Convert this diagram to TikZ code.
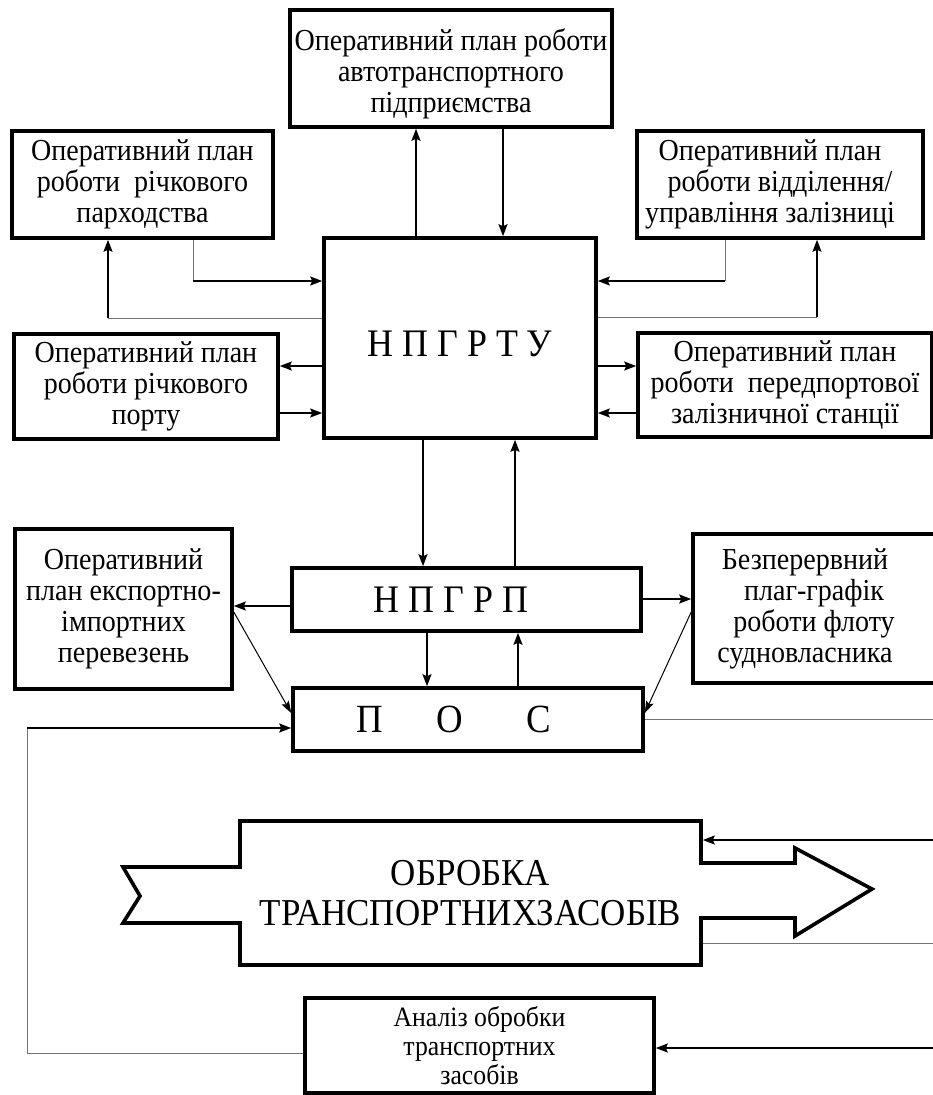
\documentclass[tikz,border=0pt]{standalone}
\usepackage{fontspec}
\setmainfont{Liberation Serif}[FakeStretch=0.92]
\usetikzlibrary{arrows.meta,calc}
\begin{document}
\begin{tikzpicture}[x=1pt,y=-1pt,
  boxbase/.style={draw, line width=3.6pt, inner sep=0pt},
  box/.style={boxbase, align=center, font=\fontsize{30.5}{31}\selectfont},
  arr/.style={line width=1.7pt, -{Stealth[length=12pt,width=9pt,inset=2pt]}},
  darr/.style={line width=1pt, -{Stealth[length=12pt,width=8pt,inset=2pt]}},
  gl/.style={line width=1pt, draw=black!55},
]
\useasboundingbox (0,0) rectangle (933,1095);
\clip (0,0) rectangle (933,1095);

% boxes
\node[box, minimum width=322pt, minimum height=117pt] (auto) at (451,68.5)
  {\raisebox{-5pt}[\height][\depth]{\parbox{322pt}{\centering Оперативний план роботи\\автотранспортного\\підприємства}}};
\node[box, minimum width=261pt, minimum height=107pt] (river) at (142.5,184.5)
  {Оперативний план\\роботи~ річкового\\парходства};
\node[box, minimum width=286pt, minimum height=107pt] (rail) at (780,184.5)
  {Оперативний план\hspace*{20pt}\\роботи відділення/\hspace*{20pt}\\управління залізниці\hspace*{20pt}};
\node[boxbase, minimum width=272pt, minimum height=200pt, font=\fontsize{39}{40}\selectfont] (main) at (460,338)
  {\raisebox{-6pt}[\height][\depth]{Н П Г Р Т У}};
\node[box, minimum width=264pt, minimum height=105pt] (port) at (146,386.5)
  {Оперативний план\\роботи річкового\\порту};
\node[box, minimum width=294pt, minimum height=104pt] (station) at (785,385)
  {Оперативний план\\роботи~ передпортової\\залізничної станції};
\node[box, minimum width=217pt, minimum height=160pt] (export) at (123.5,609)
  {Оперативний\\план експортно-\\імпортних\\перевезень};
\node[boxbase, minimum width=349pt, minimum height=63pt, font=\fontsize{39}{40}\selectfont] (npgrp) at (466.5,599.5)
  {Н П Г Р П\hspace*{31pt}};
\node[box, minimum width=242pt, minimum height=149pt] (fleet) at (814,608.5)
  {Безперервний\hspace*{18pt}\\плаг-графік\hspace*{18pt}\\роботи флоту\hspace*{18pt}\\судновласника\hspace*{18pt}};
\node[boxbase, minimum width=350pt, minimum height=63pt, font=\fontsize{40}{40}\selectfont] (pos) at (468,719.5)
  {П\hspace{54pt}О\hspace{63pt}С\hspace*{29pt}};

% processing shape
\node[minimum width=461pt, minimum height=144pt, inner sep=0pt, outer sep=1.8pt, align=center,
      font=\fontsize{38}{40}\selectfont] (proc) at (470.5,893)
  {ОБРОБКА\\ТРАНСПОРТНИХЗАСОБІВ};
\draw[line width=3.6pt, line join=miter]
  (240,821) -- (701,821) -- (701,863) -- (795,863) -- (795,848) -- (872,889)
  -- (795,936) -- (795,918) -- (701,918) -- (701,965) -- (240,965) -- (240,923)
  -- (123,923) -- (140,896) -- (123,867) -- (240,867) -- cycle;

\node[box, font=\fontsize{28}{29}\selectfont, minimum width=349pt, minimum height=95pt] (anal) at (479.5,1045.5)
  {Аналіз обробки\\транспортних\\засобів};

% connectors top
\draw[arr] ([xshift=-44pt]main.north) -- ([xshift=-35pt]auto.south);
\draw[arr] ([xshift=52pt]auto.south) -- ([xshift=43pt]main.north);

\coordinate (c1) at (193,281);
\coordinate (c2) at (108,318);
\coordinate (c3) at (725,281);
\coordinate (c4) at (817,317);
\draw[gl] (river.south -| c1) -- (c1);
\draw[arr] (c1) -- (main.west |- c1);
\draw[gl] (main.west |- c2) -- (c2);
\draw[arr] (c2) -- (river.south -| c2);
\draw[gl] (rail.south -| c3) -- (c3);
\draw[arr] (c3) -- (main.east |- c3);
\draw[gl] (main.east |- c4) -- (c4);
\draw[arr] (c4) -- (rail.south -| c4);

\coordinate (ya) at (0,366);
\coordinate (yb) at (0,413);
\draw[arr] (main.west |- ya) -- (port.east |- ya);
\draw[arr] (port.east |- yb) -- (main.west |- yb);
\draw[arr] (main.east |- ya) -- (station.west |- ya);
\draw[arr] (station.west |- yb) -- (main.east |- yb);

\coordinate (xa) at (423,0);
\coordinate (xb) at (515,0);
\draw[arr] (main.south -| xa) -- (npgrp.north -| xa);
\draw[arr] (npgrp.north -| xb) -- (main.south -| xb);

\coordinate (yc) at (0,606);
\coordinate (yd) at (0,599);
\draw[arr] (npgrp.west |- yc) -- (export.east |- yc);
\draw[arr] (npgrp.east |- yd) -- (fleet.west |- yd);

\coordinate (xc) at (427,0);
\coordinate (xd) at (518,0);
\draw[arr] (npgrp.south -| xc) -- (pos.north -| xc);
\draw[arr] (pos.north -| xd) -- (npgrp.south -| xd);

\coordinate (ye) at (0,612);
\coordinate (yf) at (0,713);
\draw[darr] (export.east |- ye) -- (pos.west |- yf);
\draw[darr] (fleet.west |- ye) -- (pos.east |- yf);

% right edge connectors
\coordinate (e1) at (933,719);
\coordinate (e2) at (933,840);
\coordinate (e3) at (933,943);
\coordinate (e4) at (933,1048);
\draw[gl] (pos.east |- e1) -- (e1);
\draw[arr] (e2) -- (proc.east |- e2);
\draw[gl] (proc.east |- e3) -- (e3);
\draw[arr] (e4) -- (anal.east |- e4);

% feedback loop
\coordinate (l1) at (27,1053);
\coordinate (l2) at (27,728);
\draw[gl] (anal.west |- l1) -- (l1) -- (l2);
\draw[arr] (l2) -- (pos.west |- l2);
\end{tikzpicture}
\end{document}
